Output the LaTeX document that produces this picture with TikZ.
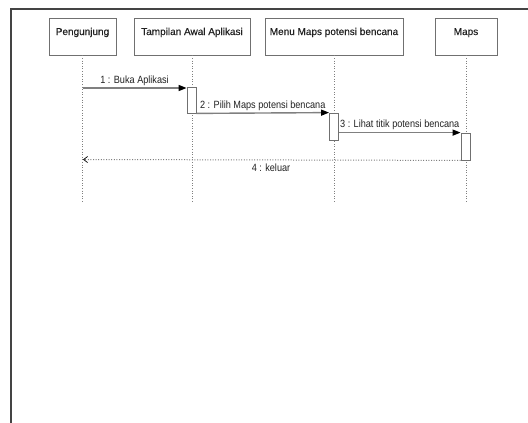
\documentclass[tikz,border=0pt]{standalone}
\usepackage{fontspec}
\setmainfont{Liberation Sans}
\newfontfamily\boxfont[FakeBold=0.4]{Liberation Sans}
\newfontfamily\labelfont[FakeStretch=0.87]{Liberation Sans}
\usetikzlibrary{arrows.meta,shadows}
\definecolor{boxline}{HTML}{707070}
\definecolor{msgline}{HTML}{808080}
\definecolor{txt}{HTML}{222222}
\definecolor{framecol}{HTML}{444444}
\tikzset{
  actorbox/.style={draw=boxline, line width=0.9pt, fill=white, minimum height=37pt,
    inner sep=0pt, text height=7pt, text depth=10pt, font=\boxfont\fontsize{10}{12}\selectfont, text=txt,
    drop shadow={opacity=0.15, shadow xshift=1.2pt, shadow yshift=-1.2pt}},
  lifeline/.style={draw=msgline, line width=0.8pt, dash pattern=on 1pt off 1.6pt},
  actbar/.style={draw=boxline, line width=0.8pt, fill=white, minimum width=9pt, inner sep=0pt},
  msg/.style={draw=msgline, line width=1.4pt, -{Triangle[length=8pt,width=6pt,color=black]}},
  retmsg/.style={draw=msgline, line width=1pt, dash pattern=on 1pt off 1.6pt, -{Straight Barb[length=4pt,width=6pt,color=black,line width=0.7pt]}},
  msglabel/.style={font=\labelfont\fontsize{10.5}{12}\selectfont, text=txt, inner sep=1pt}
}
\begin{document}
\begin{tikzpicture}[x=1pt,y=-1pt]
\useasboundingbox (0,0) rectangle (528,423);
\fill[white] (0,0) rectangle (528,423);
% frame
\coordinate (fbl) at (10.5,423);
\coordinate (ftl) at (10.5,8.5);
\coordinate (ftr) at (528,8.5);
\draw[framecol, line width=2pt] (fbl) -- (ftl) -- (ftr);

% actors
\node[actorbox, minimum width=67pt] (p) at (82.5,36.5) {Pengunjung};
\node[actorbox, minimum width=116pt] (t) at (192,36.5) {Tampilan Awal Aplikasi};
\node[actorbox, minimum width=138pt] (m) at (334,36.5) {Menu Maps potensi bencana};
\node[actorbox, minimum width=62pt] (mp) at (466,36.5) {Maps};

% lifeline ends
\coordinate (pe) at (82.5,203);
\coordinate (te) at (192,203);
\coordinate (me) at (334,203);
\coordinate (mpe) at (466,203);
\draw[lifeline] (p.south) -- (pe);
\draw[lifeline] (t.south) -- (te);
\draw[lifeline] (m.south) -- (me);
\draw[lifeline] (mp.south) -- (mpe);

% activation bars
\node[actbar, minimum height=26pt] (a1) at (191.5,100) {};
\node[actbar, minimum height=27pt] (a2) at (334,126.5) {};
\node[actbar, minimum height=27pt] (a3) at (465.5,146.5) {};

% messages
\coordinate (m1s) at (82.5,88);
\draw[msg] (m1s) -- (a1.west |- m1s) node[midway, above=1pt, msglabel] {1 : Buka Aplikasi};
\draw[msg] (a1.south east) -- (a2.north west) node[midway, above=1pt, msglabel] {2 : Pilih Maps potensi bencana};
\draw[msg] (a2.east |- a3.north west) -- (a3.north west) node[midway, above=1pt, msglabel] {3 : Lihat titik potensi bencana};
\coordinate (m4e) at (83,159.5);
\draw[retmsg] (a3.south west) -- (m4e);
\node[msglabel] (l4) at (271,168) {4 : keluar};
\end{tikzpicture}
\end{document}
